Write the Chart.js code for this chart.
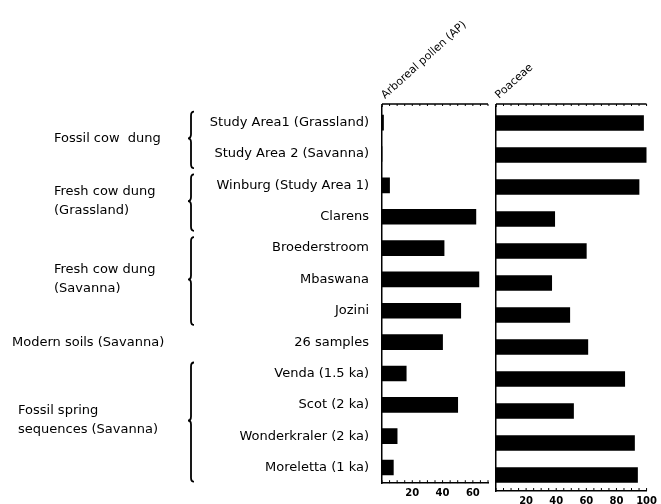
<!DOCTYPE html>
<html>
<head>
<meta charset="utf-8">
<script src="https://cdn.jsdelivr.net/npm/chart.js@4.4.1/dist/chart.umd.min.js"></script>
<style>
  html, body { margin: 0; padding: 0; background: #fff; }
  #wrap { position: relative; width: 661px; height: 504px; }
  #wrap canvas { position: absolute; left: 0; top: 0; }
</style>
</head>
<body>
<div id="wrap">
  <canvas id="apChart" width="661" height="504"></canvas>
  <canvas id="poaceaeChart" width="661" height="504"></canvas>
</div>
<script>
// Data (percent)
const categories = [
    'Study Area1 (Grassland)', 'Study Area 2 (Savanna)', 'Winburg (Study Area 1)',
    'Clarens', 'Broederstroom', 'Mbaswana', 'Jozini', '26 samples',
    'Venda (1.5 ka)', 'Scot (2 ka)', 'Wonderkraler (2 ka)', 'Moreletta (1 ka)'
];
const apValues = [1, 0, 5, 62, 41, 64, 52, 40, 16, 50, 10, 7.5];
const poaceaeValues = [98, 100, 95, 39, 60, 37, 49, 61, 85.5, 51.5, 92, 94];

const apTicks = [20, 40, 60];
const poaceaeTicks = [20, 40, 60, 80, 100];

// Sample groups shown at the left with braces
const groupNames = [
    ['Fossil cow  dung'],
    ['Fresh cow dung', '(Grassland)'],
    ['Fresh cow dung', '(Savanna)'],
    ['Modern soils (Savanna)'],
    ['Fossil spring', 'sequences (Savanna)']
];
const groupFirst = [0, 2, 4, 7, 8];
const groupLast = [1, 3, 6, 7, 11];

const FONT = '"DejaVu Sans", sans-serif';
const groupTextLeft = [54, 54, 54, 12, 18];
const braceX = 191;

// Draws the top line, inward tick marks and the slanted title
const panelPlugin = {
    id: 'panel',
    afterDraw(chart, args, opts) {
        const ctx = chart.ctx;
        const area = chart.chartArea;
        const xs = chart.scales.x;
        const topY = area.top - 3;
        ctx.save();
        ctx.strokeStyle = '#000';
        ctx.lineWidth = 1.5;
        ctx.beginPath();
        ctx.moveTo(area.left, topY);
        ctx.lineTo(area.right, topY);
        ctx.moveTo(area.left, topY);
        ctx.lineTo(area.left, area.top);
        ctx.stroke();
        ctx.lineWidth = 1;
        xs.ticks.forEach(t => {
            const px = xs.getPixelForValue(t.value);
            ctx.beginPath();
            ctx.moveTo(px, area.bottom);
            ctx.lineTo(px, area.bottom - 3);
            ctx.moveTo(px, topY);
            ctx.lineTo(px, topY + 2);
            ctx.stroke();
        });
        // title
        ctx.translate(area.left + 3, topY - 5);
        ctx.rotate(-42 * Math.PI / 180);
        ctx.fillStyle = '#000';
        ctx.font = '11px ' + FONT;
        ctx.textBaseline = 'alphabetic';
        ctx.fillText(opts.title, 0, 0);
        ctx.restore();
    }
};

// Group labels and braces (left chart only)
const groupPlugin = {
    id: 'groups',
    afterDraw(chart) {
        const ctx = chart.ctx;
        const ys = chart.scales.y;
        const step = ys.getPixelForValue(1) - ys.getPixelForValue(0);
        ctx.save();
        ctx.fillStyle = '#000';
        ctx.strokeStyle = '#000';
        ctx.lineWidth = 1.8;
        ctx.font = '13px ' + FONT;
        ctx.textBaseline = 'middle';
        groupNames.forEach((lines, i) => {
            const y0 = ys.getPixelForValue(groupFirst[i]);
            const y1 = ys.getPixelForValue(groupLast[i]);
            const mid = (y0 + y1) / 2;
            const lh = 19;
            lines.forEach((s, k) => {
                ctx.fillText(s, groupTextLeft[i], mid + (k - (lines.length - 1) / 2) * lh);
            });
            if (groupLast[i] > groupFirst[i]) {
                const top = y0 - step * 0.35;
                const bot = y1 + step * 0.45;
                const x = braceX;
                ctx.beginPath();
                ctx.moveTo(x + 3, top);
                ctx.quadraticCurveTo(x, top, x, top + 4);
                ctx.lineTo(x, mid - 4);
                ctx.quadraticCurveTo(x, mid, x - 3, mid);
                ctx.quadraticCurveTo(x, mid, x, mid + 4);
                ctx.lineTo(x, bot - 4);
                ctx.quadraticCurveTo(x, bot, x + 3, bot);
                ctx.stroke();
            }
        });
        ctx.restore();
    }
};

function makeOptions(maxVal, tickList, title, showLabels, padLeft, padRight) {
    return {
        indexAxis: 'y',
        responsive: false,
        animation: false,
        layout: { padding: { left: padLeft, right: padRight, top: 107, bottom: 0 } },
        plugins: {
            legend: { display: false },
            tooltip: { enabled: false },
            panel: { title: title }
        },
        scales: {
            x: {
                min: 0,
                max: maxVal,
                afterFit: s => { s.height = 13; },
                grid: { display: false, drawTicks: false },
                border: { display: true, color: '#000', width: 1.5 },
                ticks: {
                    stepSize: 5,
                    autoSkip: false,
                    maxRotation: 0,
                    padding: 4,
                    color: '#000',
                    font: { family: FONT, size: 10, weight: 'bold' },
                    callback: v => tickList.includes(v) ? v : ''
                }
            },
            y: {
                afterFit: s => { s.width = showLabels ? 382 - padLeft : 0; },
                grid: { display: false, drawTicks: false },
                border: { display: true, color: '#000', width: 1.5 },
                ticks: {
                    display: showLabels,
                    padding: 13,
                    color: '#000',
                    font: { family: FONT, size: 13 }
                }
            }
        }
    };
}

const apChart = new Chart(document.getElementById('apChart'), {
    type: 'bar',
    data: {
        labels: categories,
        datasets: [{
            label: 'Arboreal pollen (AP)',
            data: apValues,
            backgroundColor: '#000',
            barThickness: 15
        }]
    },
    options: makeOptions(70, apTicks, 'Arboreal pollen (AP)', true, 0, 173),
    plugins: [panelPlugin, groupPlugin]
});

const poaceaeChart = new Chart(document.getElementById('poaceaeChart'), {
    type: 'bar',
    data: {
        labels: categories,
        datasets: [{
            label: 'Poaceae',
            data: poaceaeValues,
            backgroundColor: '#000',
            barThickness: 15
        }]
    },
    options: makeOptions(100, poaceaeTicks, 'Poaceae', false, 496, 13),
    plugins: [panelPlugin]
});
</script>
</body>
</html>
